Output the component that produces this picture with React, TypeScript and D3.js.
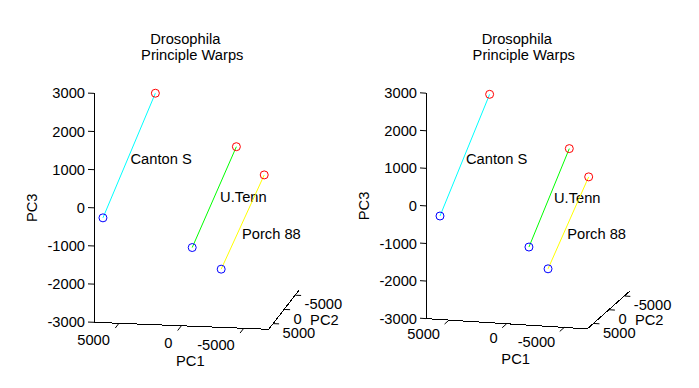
import React, { useEffect, useRef } from "react";
import * as d3 from "d3";

const strains = ["Canton S", "U.Tenn", "Porch 88"];
const lineColors = ["#00ffff", "#00ff00", "#ffff00"];

// blue end of each warp line
const pc1From = [7240, 1180, -2420];
const pc2From = [1570, -4630, 2620];
const pc3From = [-670, -1830, -1810];
// red end of each warp line
const pc1To = [3250, -2430, -5720];
const pc2To = [380, -4230, 1770];
const pc3To = [2560, 890, 640];
// where the strain names are put
const pc1Label = [5120, -1180, -4090];
const pc2Label = [1060, -3930, 2630];
const pc3Label = [860, -430, -850];

const pc1Ticks = [5000, 0, -5000];
const pc2Ticks = [-5000, 0, 5000];
const pc3Ticks = [3000, 2000, 1000, 0, -1000, -2000, -3000];
const pc1Lim = [-7000, 7000];
const pc2Lim = [-7000, 7000];
const pc3Lim = [-3000, 3000];

const titleLines = ["Drosophila", "Principle Warps"];

// stereo pair: same elevation, azimuth turned 5 degrees
const views = [
  { az: 190, el: 10, left: 94, right: 299.5, top: 53.6, bottom: 329.3 },
  { az: 195, el: 10, left: 426, right: 630.5, top: 54.8, bottom: 328.9 },
];

const font = "'Liberation Sans', Arial, sans-serif";
const fs = 14.7;

function App() {
  const canvas = useRef<SVGSVGElement>(null);

  const drawPanel = (svg: any, view: any) => {
    const xn = d3.scaleLinear().domain(pc1Lim).range([-0.5, 0.5]);
    const yn = d3.scaleLinear().domain(pc2Lim).range([-0.5, 0.5]);
    const zn = d3.scaleLinear().domain(pc3Lim).range([-0.5, 0.5]);
    const a = (view.az * Math.PI) / 180;
    const e = (view.el * Math.PI) / 180;

    const project = (p1: number, p2: number, p3: number) => {
      const x = xn(p1), y = yn(p2), z = zn(p3);
      return [
        Math.cos(a) * x + Math.sin(a) * y,
        -Math.sin(a) * Math.sin(e) * x + Math.cos(a) * Math.sin(e) * y + Math.cos(e) * z,
      ];
    };

    const corners: number[][] = [];
    pc1Lim.forEach((p1) =>
      pc2Lim.forEach((p2) => pc3Lim.forEach((p3) => corners.push(project(p1, p2, p3))))
    );
    const sx = d3.scaleLinear().domain(d3.extent(corners, (c) => c[0]) as any).range([view.left, view.right]);
    const sy = d3.scaleLinear().domain(d3.extent(corners, (c) => c[1]) as any).range([view.bottom, view.top]);

    const pt = (p1: number, p2: number, p3: number) => {
      const c = project(p1, p2, p3);
      return [sx(c[0]), sy(c[1])];
    };
    const unit = (p: number[], q: number[]) => {
      const dx = q[0] - p[0], dy = q[1] - p[1];
      const l = Math.hypot(dx, dy);
      return [dx / l, dy / l];
    };

    const g = svg.append("g");
    const x1 = pc1Lim[1], x0 = pc1Lim[0], y1 = pc2Lim[1], z0 = pc3Lim[0];

    // the three axis lines
    const axisPath = [
      [pt(x1, y1, pc3Lim[1]), pt(x1, y1, z0)],
      [pt(x1, y1, z0), pt(x0, y1, z0)],
      [pt(x0, y1, z0), pt(x0, pc2Lim[0], z0)],
    ];
    axisPath.forEach((seg) => {
      g.append("path")
        .attr("d", d3.line()(seg as any))
        .attr("stroke", "black")
        .attr("fill", "none")
        .attr("shape-rendering", "crispEdges");
    });

    const tickLen = 6;
    const dirPC1 = unit(pt(0, 0, 0), pt(0, 1000, 0)); // pc1 ticks point to +PC2
    const dirPC2 = unit(pt(0, 0, 0), pt(-1000, 0, 0)); // pc2 ticks point to -PC1
    const dirPC3 = unit(pt(0, 0, 0), pt(1000, 0, 0)); // pc3 ticks point to +PC1

    const text = (x: number, y: number, s: string, anchor: string) =>
      g.append("text")
        .attr("x", x)
        .attr("y", y)
        .attr("dy", "0.35em")
        .attr("text-anchor", anchor)
        .attr("font-family", font)
        .attr("font-size", fs)
        .text(s);

    pc3Ticks.forEach((t) => {
      const p = pt(x1, y1, t);
      g.append("line")
        .attr("x1", p[0]).attr("y1", p[1])
        .attr("x2", p[0] + dirPC3[0] * tickLen).attr("y2", p[1] + dirPC3[1] * tickLen)
        .attr("stroke", "black");
      text(p[0] - 9, p[1], String(t), "end");
    });

    pc1Ticks.forEach((t) => {
      const p = pt(t, y1, z0);
      g.append("line")
        .attr("x1", p[0]).attr("y1", p[1])
        .attr("x2", p[0] + dirPC1[0] * tickLen).attr("y2", p[1] + dirPC1[1] * tickLen)
        .attr("stroke", "black");
      text(p[0] - 9, p[1] + dirPC1[1] * 21, String(t), "end");
    });

    pc2Ticks.forEach((t) => {
      const p = pt(x0, t, z0);
      g.append("line")
        .attr("x1", p[0]).attr("y1", p[1])
        .attr("x2", p[0] + dirPC2[0] * tickLen).attr("y2", p[1] + dirPC2[1] * tickLen)
        .attr("stroke", "black");
      text(p[0] + 9.5, p[1] + 9, String(t), "start");
    });

    // axis names
    const m1 = pt(0, y1, z0);
    text(m1[0] + 9, m1[1] + 35.5, "PC1", "middle");
    const m2 = pt(x0, 0, z0);
    text(m2[0] + 26, m2[1] + 10, "PC2", "start");
    const m3 = pt(x1, y1, 0);
    g.append("text")
      .attr("transform", `translate(${m3[0] - 62},${m3[1]}) rotate(-90)`)
      .attr("dy", "0.35em")
      .attr("text-anchor", "middle")
      .attr("font-family", font)
      .attr("font-size", fs)
      .text("PC3");

    // title
    const cx = (view.left + view.right) / 2;
    text(cx - 11.5, 43.5, titleLines[0], "middle").attr("dy", null);
    text(cx - 4.5, 60, titleLines[1], "middle").attr("dy", null);

    // warp lines with their ends
    strains.forEach((name, i) => {
      const p = pt(pc1From[i], pc2From[i], pc3From[i]);
      const q = pt(pc1To[i], pc2To[i], pc3To[i]);
      g.append("line")
        .attr("x1", p[0]).attr("y1", p[1])
        .attr("x2", q[0]).attr("y2", q[1])
        .attr("stroke", lineColors[i]);
      g.append("circle")
        .attr("cx", p[0]).attr("cy", p[1]).attr("r", 4)
        .attr("fill", "none").attr("stroke", "#0000ff");
      g.append("circle")
        .attr("cx", q[0]).attr("cy", q[1]).attr("r", 4)
        .attr("fill", "none").attr("stroke", "#ff0000");
      const l = pt(pc1Label[i], pc2Label[i], pc3Label[i]);
      text(l[0], l[1], name, "start");
    });
  };

  useEffect(() => {
    const svg = d3.select(canvas.current);
    svg.selectAll("*").remove();
    views.forEach((v) => drawPanel(svg, v));
  }, []);

  return (
    <svg
      ref={canvas}
      width={699}
      height={388}
      style={{ position: "absolute", left: 0, top: 0, background: "white" }}
    />
  );
}

export default App;
